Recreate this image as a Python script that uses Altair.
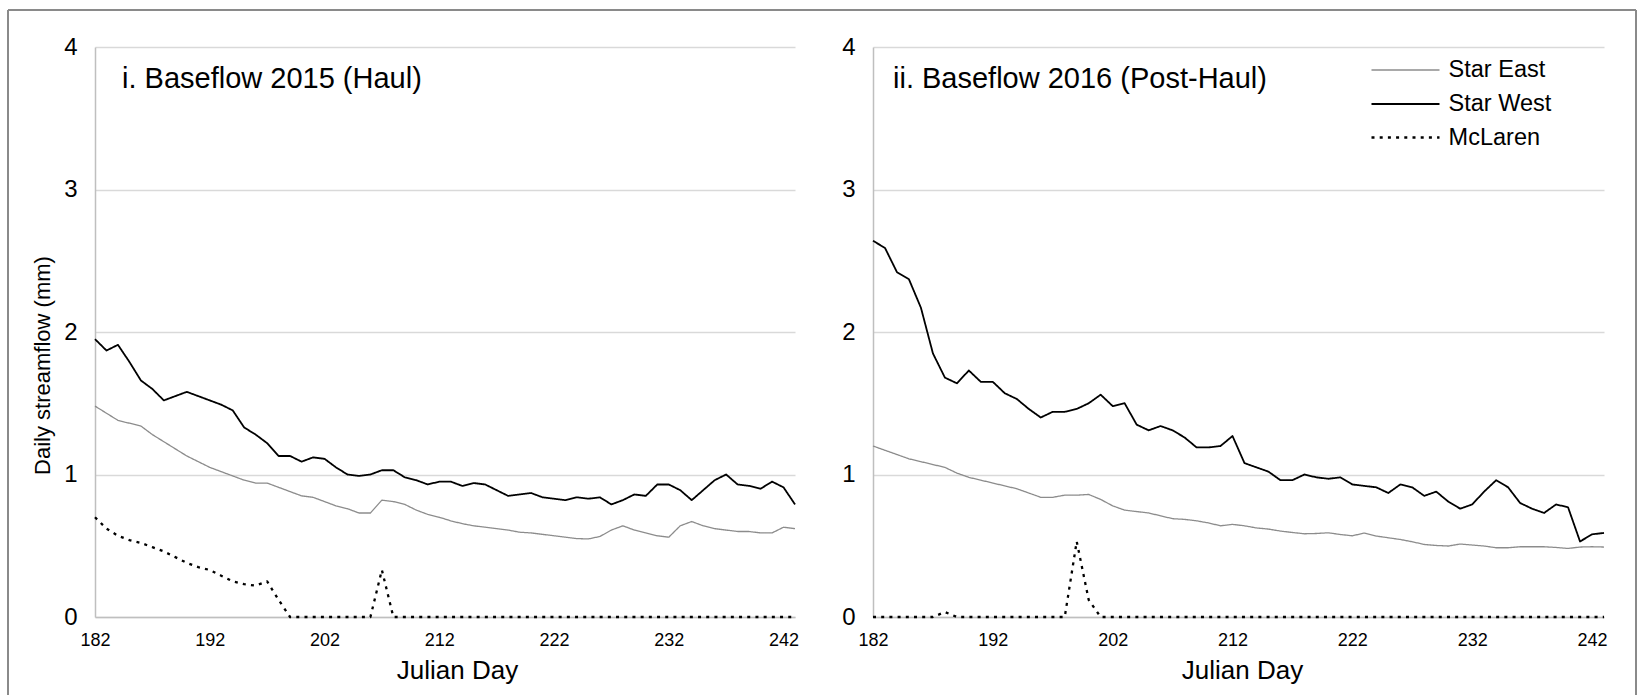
import altair as alt
import pandas as pd

# ---------------- data ----------------
days = list(range(182, 244))          # Julian day 182 .. 243
tick_days = [182, 192, 202, 212, 222, 232, 242]
y_ticks = [0, 1, 2, 3, 4]
series_names = ["Star East", "Star West", "McLaren"]
panel_titles = ["i. Baseflow 2015 (Haul)", "ii. Baseflow 2016 (Post-Haul)"]

star_east_2015 = [1.48, 1.43, 1.38, 1.36, 1.34, 1.28, 1.23, 1.18, 1.13, 1.09,
                  1.05, 1.02, 0.99, 0.96, 0.94, 0.94, 0.91, 0.88, 0.85, 0.84,
                  0.81, 0.78, 0.76, 0.73, 0.73, 0.82, 0.81, 0.79, 0.75, 0.72,
                  0.70, 0.675, 0.655, 0.64, 0.63, 0.62, 0.61, 0.595, 0.59, 0.58,
                  0.57, 0.56, 0.55, 0.548, 0.565, 0.61, 0.64, 0.61, 0.59, 0.57,
                  0.56, 0.64, 0.67, 0.64, 0.62, 0.61, 0.60, 0.60, 0.59, 0.59,
                  0.63, 0.62]
star_west_2015 = [1.95, 1.87, 1.91, 1.79, 1.66, 1.60, 1.52, 1.55, 1.58, 1.55,
                  1.52, 1.49, 1.45, 1.33, 1.28, 1.22, 1.13, 1.13, 1.09, 1.12,
                  1.11, 1.05, 1.00, 0.99, 1.00, 1.03, 1.03, 0.98, 0.96, 0.93,
                  0.95, 0.95, 0.92, 0.94, 0.93, 0.89, 0.85, 0.86, 0.87, 0.84,
                  0.83, 0.82, 0.84, 0.83, 0.84, 0.79, 0.82, 0.86, 0.85, 0.93,
                  0.93, 0.89, 0.82, 0.89, 0.96, 1.00, 0.93, 0.92, 0.90, 0.95,
                  0.91, 0.79]
mclaren_2015 = [0.70, 0.62, 0.57, 0.54, 0.52, 0.49, 0.46, 0.42, 0.38, 0.35,
                0.33, 0.29, 0.25, 0.23, 0.22, 0.25, 0.12, 0.0, 0.0, 0.0,
                0.0, 0.0, 0.0, 0.0, 0.0, 0.33, 0.0, 0.0, 0.0, 0.0,
                0.0, 0.0, 0.0, 0.0, 0.0, 0.0, 0.0, 0.0, 0.0, 0.0,
                0.0, 0.0, 0.0, 0.0, 0.0, 0.0, 0.0, 0.0, 0.0, 0.0,
                0.0, 0.0, 0.0, 0.0, 0.0, 0.0, 0.0, 0.0, 0.0, 0.0,
                0.0, 0.0]

star_east_2016 = [1.20, 1.17, 1.14, 1.11, 1.09, 1.07, 1.05, 1.01, 0.98, 0.96,
                  0.94, 0.92, 0.90, 0.87, 0.84, 0.84, 0.855, 0.855, 0.86, 0.825,
                  0.78, 0.75, 0.74, 0.73, 0.71, 0.69, 0.685, 0.675, 0.66, 0.64,
                  0.65, 0.64, 0.625, 0.617, 0.603, 0.593, 0.584, 0.586, 0.591, 0.579,
                  0.57, 0.589, 0.568, 0.556, 0.544, 0.528, 0.509, 0.502, 0.498, 0.512,
                  0.505, 0.498, 0.486, 0.486, 0.493, 0.493, 0.493, 0.488, 0.481, 0.491,
                  0.493, 0.491]
star_west_2016 = [2.64, 2.59, 2.42, 2.37, 2.17, 1.85, 1.68, 1.64, 1.73, 1.65,
                  1.65, 1.57, 1.53, 1.46, 1.40, 1.44, 1.44, 1.46, 1.50, 1.56,
                  1.48, 1.50, 1.35, 1.31, 1.34, 1.31, 1.26, 1.19, 1.19, 1.20,
                  1.27, 1.08, 1.05, 1.02, 0.96, 0.96, 1.00, 0.98, 0.97, 0.98,
                  0.93, 0.92, 0.91, 0.87, 0.93, 0.91, 0.85, 0.88, 0.81, 0.76,
                  0.79, 0.88, 0.96, 0.91, 0.80, 0.76, 0.73, 0.79, 0.77, 0.53,
                  0.58, 0.59]
mclaren_2016 = [0.0, 0.0, 0.0, 0.0, 0.0, 0.0, 0.035, 0.0, 0.0, 0.0,
                0.0, 0.0, 0.0, 0.0, 0.0, 0.0, 0.0, 0.53, 0.12, 0.0,
                0.0, 0.0, 0.0, 0.0, 0.0, 0.0, 0.0, 0.0, 0.0, 0.0,
                0.0, 0.0, 0.0, 0.0, 0.0, 0.0, 0.0, 0.0, 0.0, 0.0,
                0.0, 0.0, 0.0, 0.0, 0.0, 0.0, 0.0, 0.0, 0.0, 0.0,
                0.0, 0.0, 0.0, 0.0, 0.0, 0.0, 0.0, 0.0, 0.0, 0.0,
                0.0, 0.0]


def long_frame(vals_list):
    rows = []
    for name, vals in zip(series_names, vals_list):
        for d, v in zip(days, vals):
            rows.append({"day": d, "flow": v, "site": name})
    return pd.DataFrame(rows)


df15 = long_frame([star_east_2015, star_west_2015, mclaren_2015])
df16 = long_frame([star_east_2016, star_west_2016, mclaren_2016])

FONT = "Liberation Sans"
colors = ["#8c8c8c", "#000000", "#000000"]
dashes = [[1, 0], [1, 0], [3, 5.2]]
widths = [1.3, 2.3, 3.4]

W_LEFT, W_RIGHT, H = 700, 731, 570


def panel(df, title, show_legend, y_title, title_x_axis, title_dx):
    if show_legend:
        leg = alt.Legend(orient="none", legendX=520, legendY=11, title=None,
                         symbolType="M-3,0H3", symbolSize=514,
                         labelOffset=30.6, labelFontSize=23.5, labelFont=FONT,
                         labelColor="#000000", rowPadding=9.5, padding=0,
                         labelLimit=300)
    else:
        leg = None
    x = alt.X("day:Q",
              scale=alt.Scale(domain=[182, 243], nice=False, zero=False),
              axis=alt.Axis(values=tick_days, title="Julian Day", grid=False,
                            ticks=False, labelFontSize=18, labelPadding=14,
                            labelFlush=False,
                            titleFontSize=26, titleX=title_x_axis, titleY=61,
                            titleBaseline="alphabetic", titleAlign="center"))
    yaxis_kwargs = dict(values=y_ticks, grid=True, ticks=False, labelFontSize=24,
                        labelPadding=18, labelBaseline="middle", labelFlush=False)
    if y_title:
        yaxis_kwargs.update(title=y_title, titleFontSize=22, titleX=-53, titleY=318,
                            titleAngle=270, titleAlign="center",
                            titleBaseline="middle")
    else:
        yaxis_kwargs.update(title=None)
    y = alt.Y("flow:Q", scale=alt.Scale(domain=[0, 4], nice=False),
              axis=alt.Axis(**yaxis_kwargs))
    lines = alt.Chart(df).mark_line(strokeJoin="round").encode(
        x=x, y=y,
        color=alt.Color("site:O", sort=series_names,
                        scale=alt.Scale(domain=series_names, range=colors), legend=leg),
        strokeDash=alt.StrokeDash("site:O", sort=series_names,
                                  scale=alt.Scale(domain=series_names, range=dashes),
                                  legend=leg),
        strokeWidth=alt.StrokeWidth("site:O", sort=series_names,
                                    scale=alt.Scale(domain=series_names, range=widths),
                                    legend=leg),
        detail="site:N",
    )
    label = alt.Chart(pd.DataFrame({"t": [title]})).mark_text(
        align="left", baseline="alphabetic", fontSize=29, font=FONT, color="#000000"
    ).encode(text="t:N", x=alt.value(title_dx), y=alt.value(41))
    return lines, label


l_lines, l_label = panel(df15, panel_titles[0], False,
                         "Daily streamflow (mm)", 362, 27)
r_lines, r_label = panel(df16, panel_titles[1], True, None, 369, 20)

# decorative outer frame (top, left and right edges; bottom edge lies off-page)
one = pd.DataFrame({"f": [0]})
FRAME_STYLE = dict(color="#8a8a8a", strokeWidth=2)
frame_top = alt.Chart(one).mark_rule(**FRAME_STYLE).encode(
    x=alt.value(-87), x2=alt.value(1541), y=alt.value(-37))
frame_left = alt.Chart(one).mark_rule(**FRAME_STYLE).encode(
    x=alt.value(-87), y=alt.value(-37), y2=alt.value(648))
frame_right = alt.Chart(one).mark_rule(**FRAME_STYLE).encode(
    x=alt.value(1541), y=alt.value(-37), y2=alt.value(648))

left = alt.layer(frame_top, frame_left, frame_right, l_lines, l_label).properties(
    width=W_LEFT, height=H)
right = alt.layer(r_lines, r_label).properties(width=W_RIGHT, height=H)

chart = alt.hconcat(left, right, spacing=78, bounds="flush").resolve_scale(
    color="independent", strokeDash="independent", strokeWidth="independent"
).resolve_legend(
    color="independent", strokeDash="independent", strokeWidth="independent"
).properties(
    padding={"left": 7, "top": 9, "right": 5, "bottom": 0},
    background="white",
).configure_view(stroke=None).configure_axis(
    labelFont=FONT, titleFont=FONT, labelColor="#000000", titleColor="#000000",
    titleFontWeight="normal", gridColor="#d9d9d9", gridWidth=1.3,
    domainColor="#bfbfbf", domainWidth=1.5,
)

chart.save("out.html", embed_options={"renderer": "svg", "actions": False})
